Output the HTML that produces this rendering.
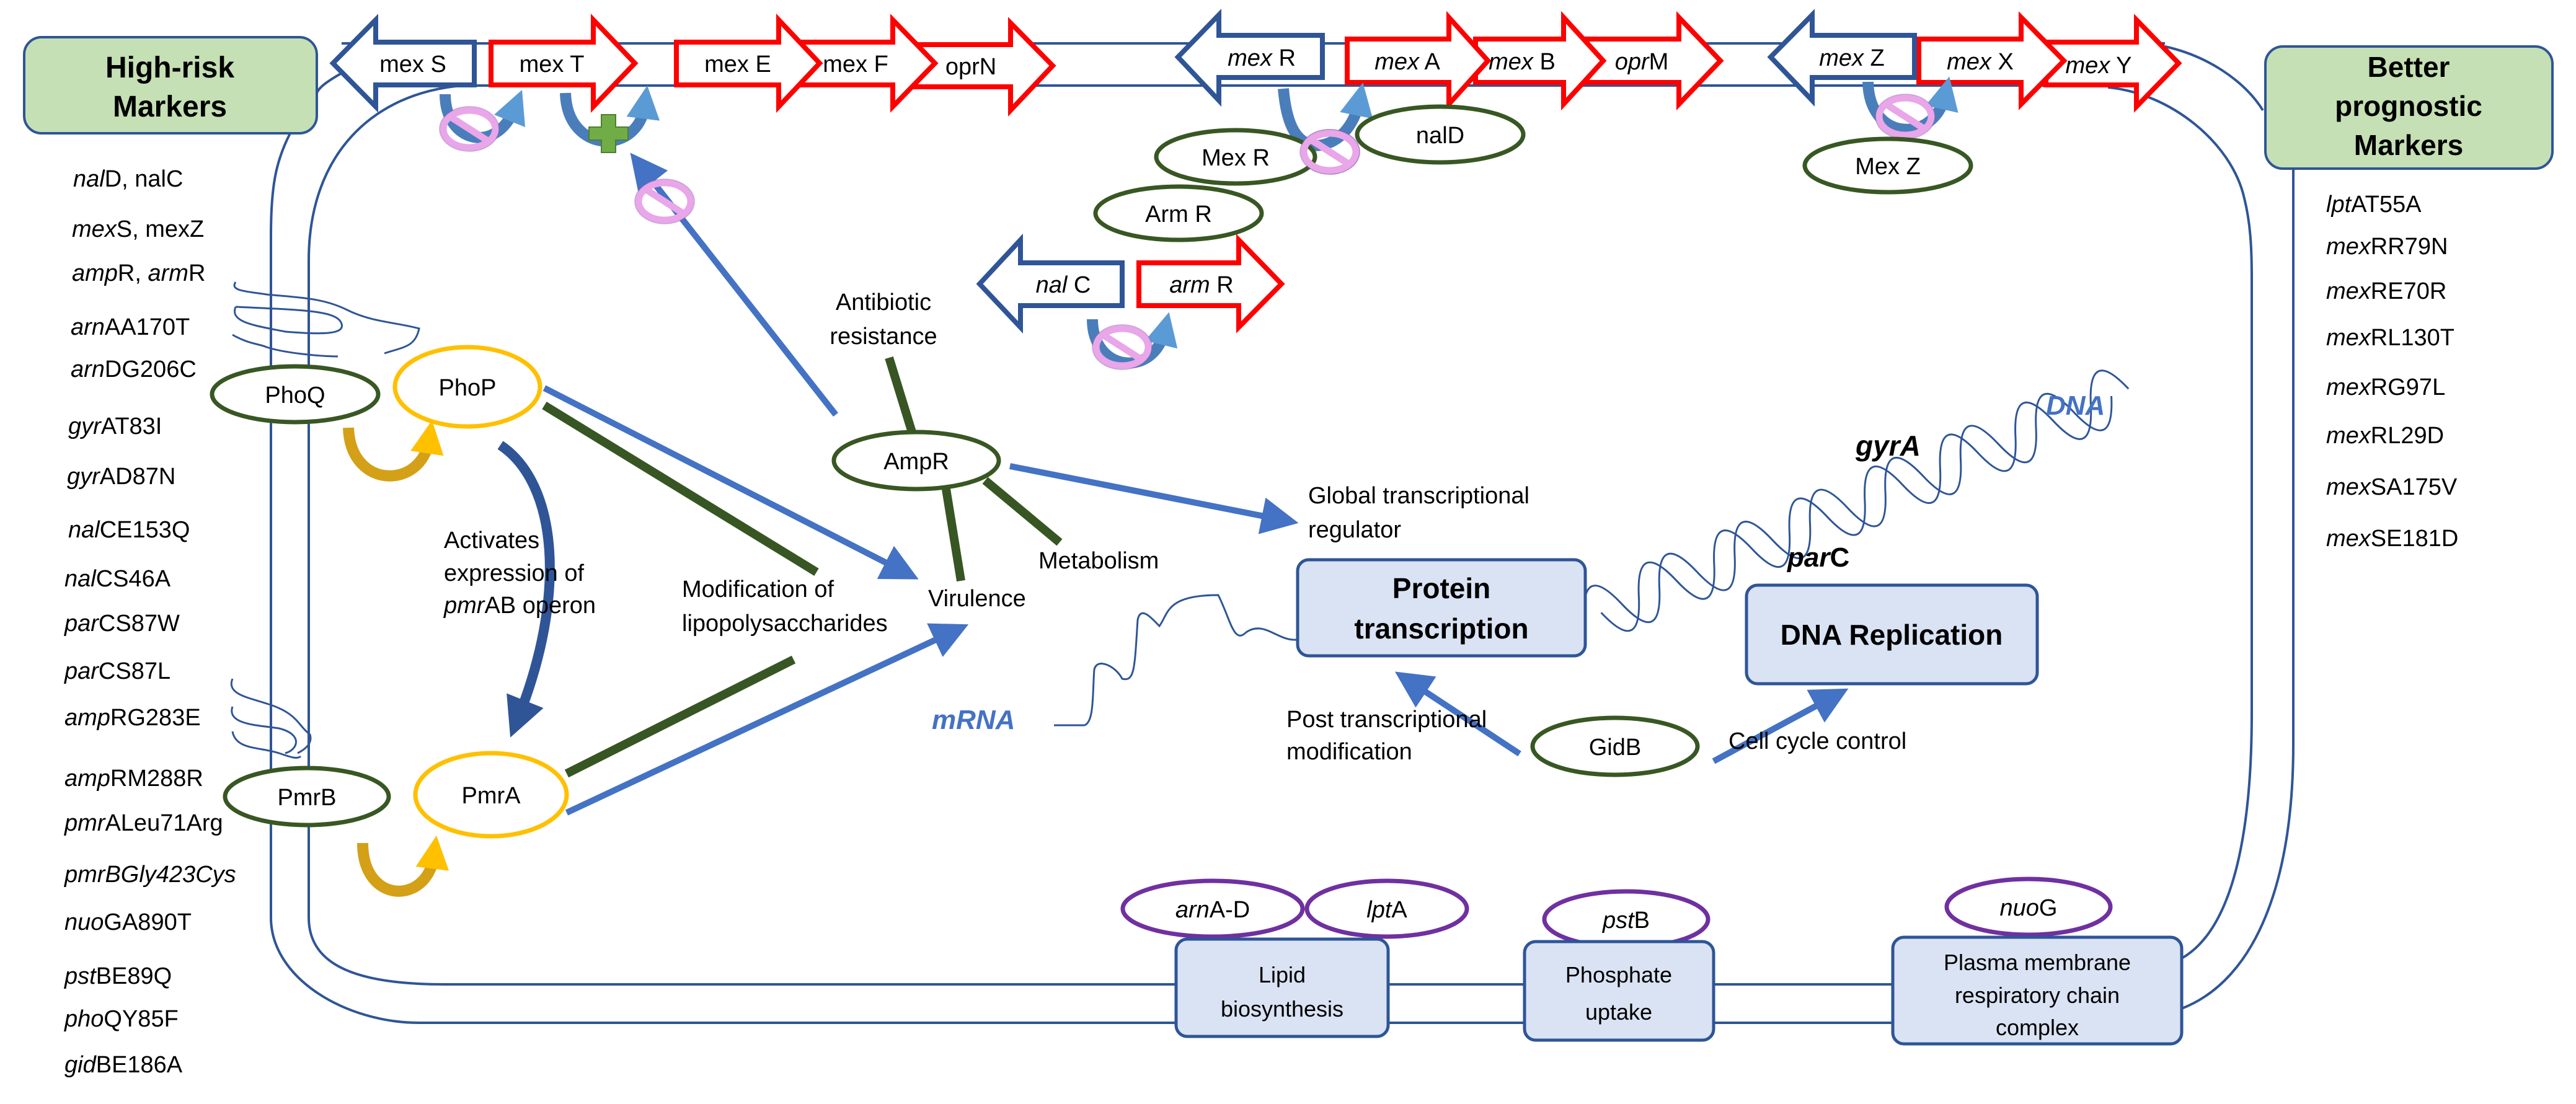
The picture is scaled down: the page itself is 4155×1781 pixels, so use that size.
<!DOCTYPE html>
<html><head><meta charset="utf-8"><style>
html,body{margin:0;padding:0;background:#fff;}
svg{display:block;}
text{font-family:"Liberation Sans",sans-serif;fill:#000;}
</style></head><body>
<svg width="4155" height="1781" viewBox="0 0 4155 1781" xmlns="http://www.w3.org/2000/svg">
<defs>
<marker id="ab" markerWidth="6" markerHeight="6" refX="3" refY="3" orient="auto" markerUnits="strokeWidth"><path d="M0,0 L6,3 L0,6 Z" fill="#4472c4"/></marker>
<marker id="ad" markerWidth="4" markerHeight="4" refX="2" refY="2" orient="auto" markerUnits="strokeWidth"><path d="M0,0 L4,2 L0,4 Z" fill="#2f5597"/></marker>
<marker id="au" markerWidth="3" markerHeight="3" refX="1.2" refY="1.5" orient="auto" markerUnits="strokeWidth"><path d="M0,0 L3,1.5 L0,3 Z" fill="#5b9bd5"/></marker>
<marker id="ag" markerWidth="3" markerHeight="3" refX="1.2" refY="1.5" orient="auto" markerUnits="strokeWidth"><path d="M0,0 L3,1.5 L0,3 Z" fill="#ffc000"/></marker>
<g id="inh"><ellipse cx="0" cy="0" rx="42" ry="30" fill="none" stroke="#e9a6e9" stroke-width="11"/><line x1="-28" y1="-18" x2="28" y2="18" stroke="#e9a6e9" stroke-width="11"/><ellipse cx="0" cy="0" rx="48" ry="36" fill="none" stroke="#8f5fb5" stroke-width="1.5" opacity="0.5"/></g>
</defs>

<!-- membrane -->
<g fill="none" stroke="#2f5597" stroke-width="4">
<line x1="551" y1="70" x2="3492" y2="70"/>
<line x1="746" y1="138" x2="3420" y2="138"/>
<path d="M551,118 C530,130 515,140 511,150"/>
<path d="M468,215 C445,260 437,300 437,380 L437,1480 C437,1580 560,1650 676,1650 L3060,1650"/>
<path d="M746,138 C600,150 498,250 498,420 L498,1480 C498,1550 560,1588 716,1588 L3060,1588"/>
<path d="M3492,75 C3560,90 3620,130 3650,178"/>
<path d="M3400,141 C3500,150 3600,230 3620,320 C3630,360 3632,400 3632,450 L3632,1150 C3632,1350 3600,1500 3519,1546"/>
<path d="M3699,272 L3699,1200 C3699,1420 3640,1580 3519,1627"/>
</g>

<!-- marker boxes -->
<rect x="39" y="60" width="472" height="155" rx="28" fill="#c5e0b4" stroke="#2f5597" stroke-width="4"/>
<text x="274" y="125" font-size="48" font-weight="bold" text-anchor="middle">High-risk</text>
<text x="274" y="188" font-size="48" font-weight="bold" text-anchor="middle">Markers</text>
<rect x="3654" y="75" width="463" height="197" rx="28" fill="#c5e0b4" stroke="#2f5597" stroke-width="4"/>
<text x="3885" y="124" font-size="46" font-weight="bold" text-anchor="middle">Better</text>
<text x="3885" y="187" font-size="46" font-weight="bold" text-anchor="middle">prognostic</text>
<text x="3885" y="250" font-size="46" font-weight="bold" text-anchor="middle">Markers</text>

<!-- left list -->
<g font-size="38">
<text x="118" y="301"><tspan font-style="italic">nal</tspan>D, nalC</text>
<text x="116" y="382"><tspan font-style="italic">mex</tspan>S, mexZ</text>
<text x="116" y="453"><tspan font-style="italic">amp</tspan>R, <tspan font-style="italic">arm</tspan>R</text>
<text x="114" y="540"><tspan font-style="italic">arn</tspan>AA170T</text>
<text x="114" y="608"><tspan font-style="italic">arn</tspan>DG206C</text>
<text x="110" y="700"><tspan font-style="italic">gyr</tspan>AT83I</text>
<text x="108" y="781"><tspan font-style="italic">gyr</tspan>AD87N</text>
<text x="110" y="867"><tspan font-style="italic">nal</tspan>CE153Q</text>
<text x="104" y="946"><tspan font-style="italic">nal</tspan>CS46A</text>
<text x="104" y="1018"><tspan font-style="italic">par</tspan>CS87W</text>
<text x="104" y="1095"><tspan font-style="italic">par</tspan>CS87L</text>
<text x="104" y="1170"><tspan font-style="italic">amp</tspan>RG283E</text>
<text x="104" y="1268"><tspan font-style="italic">amp</tspan>RM288R</text>
<text x="104" y="1340"><tspan font-style="italic">pmr</tspan>ALeu71Arg</text>
<text x="104" y="1423" font-style="italic">pmrBGly423Cys</text>
<text x="104" y="1500"><tspan font-style="italic">nuo</tspan>GA890T</text>
<text x="104" y="1587"><tspan font-style="italic">pst</tspan>BE89Q</text>
<text x="104" y="1656"><tspan font-style="italic">pho</tspan>QY85F</text>
<text x="104" y="1730"><tspan font-style="italic">gid</tspan>BE186A</text>
</g>
<!-- right list -->
<g font-size="38">
<text x="3752" y="342"><tspan font-style="italic">lpt</tspan>AT55A</text>
<text x="3752" y="410"><tspan font-style="italic">mex</tspan>RR79N</text>
<text x="3752" y="482"><tspan font-style="italic">mex</tspan>RE70R</text>
<text x="3752" y="557"><tspan font-style="italic">mex</tspan>RL130T</text>
<text x="3752" y="637"><tspan font-style="italic">mex</tspan>RG97L</text>
<text x="3752" y="715"><tspan font-style="italic">mex</tspan>RL29D</text>
<text x="3752" y="798"><tspan font-style="italic">mex</tspan>SA175V</text>
<text x="3752" y="881"><tspan font-style="italic">mex</tspan>SE181D</text>
</g>

<!-- gene arrows (red right) -->
<g fill="#fff" stroke="#ff0000" stroke-width="8" stroke-linejoin="miter">
<path d="M1470,72 L1630,72 L1630,37 L1698,106 L1630,178 L1630,140 L1470,140 Z"/>
<path d="M1260,68 L1440,68 L1440,32 L1508,102 L1440,172 L1440,137 L1260,137 Z"/>
<path d="M1091,68 L1256,68 L1256,32 L1322,102 L1256,172 L1256,137 L1091,137 Z"/>
<path d="M792,68 L957,68 L957,32 L1024,102 L957,172 L957,137 L792,137 Z"/>
<path d="M2560,63 L2708,63 L2708,28 L2775,98 L2708,168 L2708,133 L2560,133 Z"/>
<path d="M2380,63 L2522,63 L2522,28 L2586,98 L2522,168 L2522,133 L2380,133 Z"/>
<path d="M2173,63 L2337,63 L2337,28 L2400,98 L2337,168 L2337,133 L2173,133 Z"/>
<path d="M3300,68 L3446,68 L3446,32 L3514,102 L3446,172 L3446,137 L3300,137 Z"/>
<path d="M3095,63 L3260,63 L3260,28 L3329,98 L3260,168 L3260,133 L3095,133 Z"/>
<path d="M1837,424 L1998,424 L1998,387 L2067,458 L1998,528 L1998,493 L1837,493 Z"/>
</g>
<!-- blue left arrows -->
<g fill="#fff" stroke="#2f5597" stroke-width="8">
<path d="M537,102 L606,32 L606,68 L765,68 L765,137 L606,137 L606,172 Z"/>
<path d="M1900,92 L1966,24 L1966,57 L2133,57 L2133,125 L1966,125 L1966,162 Z"/>
<path d="M2856,92 L2923,24 L2923,57 L3088,57 L3088,125 L2923,125 L2923,162 Z"/>
<path d="M1580,458 L1646,387 L1646,424 L1810,424 L1810,493 L1646,493 L1646,528 Z"/>
</g>
<g font-size="38" text-anchor="middle">
<text x="666" y="116">mex S</text>
<text x="890" y="116">mex T</text>
<text x="1190" y="116">mex E</text>
<text x="1380" y="116">mex F</text>
<text x="1566" y="120">oprN</text>
<text x="2035" y="106"><tspan font-style="italic">mex</tspan> R</text>
<text x="2270" y="112"><tspan font-style="italic">mex</tspan> A</text>
<text x="2455" y="112"><tspan font-style="italic">mex</tspan> B</text>
<text x="2648" y="112"><tspan font-style="italic">opr</tspan>M</text>
<text x="2987" y="106"><tspan font-style="italic">mex</tspan> Z</text>
<text x="3194" y="112"><tspan font-style="italic">mex</tspan> X</text>
<text x="3385" y="118"><tspan font-style="italic">mex</tspan> Y</text>
<text x="1715" y="472"><tspan font-style="italic">nal</tspan> C</text>
<text x="1938" y="472"><tspan font-style="italic">arm</tspan> R</text>
</g>

<!-- U arrows -->
<g fill="none" stroke-width="18">
<path d="M718,152 C718,230 800,250 830,175" stroke="#4a7ebb" marker-end="url(#au)"/>
<path d="M912,150 C915,250 1030,250 1040,170" stroke="#4a7ebb" marker-end="url(#au)"/>
<path d="M2070,143 C2075,200 2090,230 2120,235 C2160,235 2185,200 2192,165" stroke="#4a7ebb" marker-end="url(#au)"/>
<path d="M1762,515 C1762,600 1860,610 1878,535" stroke="#4a7ebb" marker-end="url(#au)"/>
<path d="M3013,132 C3015,230 3120,230 3137,155" stroke="#4a7ebb" marker-end="url(#au)"/>
<path d="M562,690 C565,790 680,790 692,710" stroke="#d4a017" marker-end="url(#ag)"/>
<path d="M585,1360 C585,1460 690,1460 700,1380" stroke="#d4a017" marker-end="url(#ag)"/>
</g>
<!-- green cross -->
<path d="M970,185 L993,185 L993,205 L1013,205 L1013,226 L993,226 L993,246 L970,246 L970,226 L950,226 L950,205 L970,205 Z" fill="#70ad47" stroke="#507e32" stroke-width="2"/>

<!-- connector lines -->
<g stroke="#4472c4" stroke-width="10" fill="none">
<line x1="1348" y1="669" x2="1035" y2="270" marker-end="url(#ab)"/>
<line x1="878" y1="626" x2="1455" y2="921" marker-end="url(#ab)"/>
<line x1="914" y1="1311" x2="1535" y2="1020" marker-end="url(#ab)"/>
<line x1="1629" y1="752" x2="2065" y2="838" marker-end="url(#ab)"/>
<line x1="2451" y1="1216" x2="2275" y2="1100" marker-end="url(#ab)"/>
<line x1="2764" y1="1228" x2="2955" y2="1125" marker-end="url(#ab)"/>
</g>
<path d="M807,718 C900,780 915,960 835,1160" fill="none" stroke="#2f5597" stroke-width="16" marker-end="url(#ad)"/>
<g stroke="#375623" stroke-width="14">
<line x1="878" y1="654" x2="1317" y2="923"/>
<line x1="914" y1="1248" x2="1280" y2="1064"/>
<line x1="1434" y1="577" x2="1471" y2="697"/>
<line x1="1526" y1="789" x2="1550" y2="937"/>
<line x1="1589" y1="775" x2="1709" y2="875"/>
</g>
<use href="#inh" x="1072" y="325"/>
<use href="#inh" x="757" y="208"/>
<use href="#inh" x="2145" y="245"/>
<use href="#inh" x="1810" y="560"/>
<use href="#inh" x="3073" y="188"/>

<!-- hairs -->
<g fill="none" stroke="#2f5597" stroke-width="3">
<path d="M380,455 C370,470 400,470 430,475 C480,480 520,480 560,500 C600,520 640,520 676,530 C670,560 650,560 620,570"/>
<path d="M380,495 C370,520 410,525 460,535 C520,540 560,540 550,520 C540,500 480,500 380,495"/>
<path d="M375,540 C400,555 420,555 430,560 C460,570 520,575 545,575"/>
<path d="M375,1095 C365,1120 400,1125 430,1135 C480,1150 480,1170 500,1185 C505,1200 490,1210 480,1215"/>
<path d="M375,1140 C365,1170 420,1170 450,1175 C490,1185 480,1210 460,1215"/>
<path d="M375,1180 C380,1210 420,1205 450,1215 C470,1222 480,1225 485,1220"/>
</g>

<!-- ellipses -->
<g fill="#fff" stroke="#385723" stroke-width="7">
<ellipse cx="476" cy="636" rx="134" ry="45"/>
<ellipse cx="1478" cy="743" rx="133" ry="46"/>
<ellipse cx="1901" cy="344" rx="134" ry="43"/>
<ellipse cx="1993" cy="253" rx="128" ry="43"/>
<ellipse cx="2323" cy="217" rx="134" ry="45"/>
<ellipse cx="3045" cy="267" rx="134" ry="43"/>
<ellipse cx="2605" cy="1204" rx="133" ry="46"/>
<ellipse cx="495" cy="1285" rx="132" ry="46"/>
</g>
<use href="#inh" x="2145" y="245"/>
<g fill="#fff" stroke="#ffc000" stroke-width="7">
<ellipse cx="754" cy="624" rx="117" ry="64"/>
<ellipse cx="792" cy="1282" rx="122" ry="67"/>
</g>
<g fill="#fff" stroke="#7030a0" stroke-width="7">
<ellipse cx="1956" cy="1466" rx="145" ry="45"/>
<ellipse cx="2237" cy="1466" rx="129" ry="45"/>
<ellipse cx="2623" cy="1483" rx="132" ry="45"/>
<ellipse cx="3272" cy="1463" rx="132" ry="45"/>
</g>
<g font-size="38" text-anchor="middle">
<text x="476" y="650">PhoQ</text>
<text x="754" y="638">PhoP</text>
<text x="1478" y="757">AmpR</text>
<text x="1901" y="358">Arm R</text>
<text x="1993" y="267">Mex R</text>
<text x="2323" y="231">nalD</text>
<text x="3045" y="281">Mex Z</text>
<text x="2605" y="1218">GidB</text>
<text x="495" y="1299">PmrB</text>
<text x="792" y="1296">PmrA</text>
<text x="1956" y="1480"><tspan font-style="italic">arn</tspan>A-D</text>
<text x="2237" y="1480"><tspan font-style="italic">lpt</tspan>A</text>
<text x="2623" y="1497"><tspan font-style="italic">pst</tspan>B</text>
<text x="3272" y="1477"><tspan font-style="italic">nuo</tspan>G</text>
</g>

<!-- DNA helix -->
<g transform="translate(2555,1000) rotate(-23)" fill="none" stroke="#2f5597" stroke-width="3">
<path d="M0,0 q33,-90 66,0 t66,0 t66,0 t66,0 t66,0 t66,0 t66,0 t66,0 t66,0 t66,0 t66,0 t66,0 t66,0 t66,0"/>
<path d="M30,0 q33,90 66,0 t66,0 t66,0 t66,0 t66,0 t66,0 t66,0 t66,0 t66,0 t66,0 t66,0 t66,0 t66,0 t66,0"/>
</g>
<!-- mRNA -->
<path d="M1700,1170 L1749,1170 C1765,1165 1762,1120 1765,1080 C1770,1060 1800,1075 1810,1095 C1830,1100 1830,1080 1835,1000 C1840,975 1860,1000 1870,1010 C1885,990 1880,960 1965,960 C1985,1000 1990,1040 2010,1020 C2040,1000 2060,1035 2093,1032" fill="none" stroke="#2f5597" stroke-width="3"/>

<!-- blue boxes -->
<g fill="#dae3f3" stroke="#2f5597" stroke-width="5">
<rect x="2093" y="903" width="464" height="155" rx="18"/>
<rect x="2817" y="944" width="469" height="159" rx="18"/>
<rect x="1897" y="1515" width="342" height="157" rx="18"/>
<rect x="2459" y="1519" width="305" height="159" rx="18"/>
<rect x="3053" y="1512" width="466" height="172" rx="18"/>
</g>
<g text-anchor="middle">
<text x="2325" y="965" font-size="46" font-weight="bold">Protein</text>
<text x="2325" y="1030" font-size="46" font-weight="bold">transcription</text>
<text x="3051" y="1040" font-size="46" font-weight="bold">DNA Replication</text>
<text x="2068" y="1585" font-size="36">Lipid</text>
<text x="2068" y="1640" font-size="36">biosynthesis</text>
<text x="2611" y="1585" font-size="36">Phosphate</text>
<text x="2611" y="1645" font-size="36">uptake</text>
<text x="3286" y="1565" font-size="36">Plasma membrane</text>
<text x="3286" y="1618" font-size="36">respiratory chain</text>
<text x="3286" y="1670" font-size="36">complex</text>
</g>

<!-- labels -->
<g font-size="38">
<text x="1425" y="500" text-anchor="middle">Antibiotic</text>
<text x="1425" y="555" text-anchor="middle">resistance</text>
<text x="2110" y="812">Global transcriptional</text>
<text x="2110" y="867">regulator</text>
<text x="716" y="884">Activates</text>
<text x="716" y="937">expression of</text>
<text x="716" y="989"><tspan font-style="italic">pmr</tspan>AB operon</text>
<text x="1100" y="963">Modification of</text>
<text x="1100" y="1018">lipopolysaccharides</text>
<text x="1497" y="978">Virulence</text>
<text x="1675" y="917">Metabolism</text>
<text x="2075" y="1173">Post transcriptional</text>
<text x="2075" y="1225">modification</text>
<text x="2788" y="1208">Cell cycle control</text>
<text x="2993" y="735" font-size="46" font-weight="bold" font-style="italic">gyrA</text>
<text x="2883" y="914" font-size="44" font-weight="bold"><tspan font-style="italic">par</tspan>C</text>
<text x="3300" y="669" font-size="44" font-weight="bold" font-style="italic" fill="#4472c4" style="fill:#4472c4">DNA</text>
<text x="1503" y="1176" font-size="44" font-weight="bold" font-style="italic" style="fill:#4472c4">mRNA</text>
</g>
</svg>
</body></html>
